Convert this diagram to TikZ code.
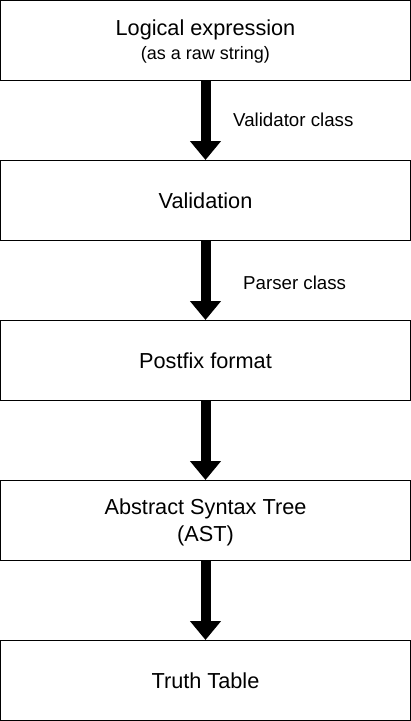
\documentclass[tikz,border=0pt]{standalone}
\usepackage{fontspec}
\setmainfont{Liberation Sans}
\usetikzlibrary{arrows.meta}
\begin{document}
\begin{tikzpicture}[x=1pt,y=-1pt,
  stage/.style={draw=black,line width=1pt,minimum width=410pt,minimum height=80pt,inner sep=0pt,align=center,
    font=\fontsize{21.7pt}{27pt}\selectfont},
  flow/.style={line width=10pt,-{Triangle[width=30pt,length=19pt]}},
  lbl/.style={anchor=west,inner sep=0pt,font=\fontsize{18.7pt}{22pt}\selectfont}]
\useasboundingbox (0,0) rectangle (411,721);
\node[stage] (expr) at (205.5,40.5) {};
\node[align=center,inner sep=0pt,font=\fontsize{21.7pt}{27pt}\selectfont] (exprtxt) at (205.5,42) {Logical expression\\[-3pt]{\fontsize{18pt}{22pt}\selectfont (as a raw string)}};
\node[stage] (valid) at (205.5,200.5) {Validation};
\node[stage] (post) at (205.5,360.5) {Postfix format};
\node[stage] (ast) at (205.5,520.5) {};
\node[align=center,inner sep=0pt,font=\fontsize{21.7pt}{27pt}\selectfont] (asttxt) at (205.5,522) {Abstract Syntax Tree\\(AST)};
\node[stage] (truth) at (205.5,680.5) {Truth Table};
\draw[flow] (expr.south) -- (valid.north);
\draw[flow] (valid.south) -- (post.north);
\draw[flow] (post.south) -- (ast.north);
\draw[flow] (ast.south) -- (truth.north);
\node[lbl] (vlab) at (233,120) {Validator class};
\node[lbl] (plab) at (243,283) {Parser class};
\end{tikzpicture}
\end{document}
